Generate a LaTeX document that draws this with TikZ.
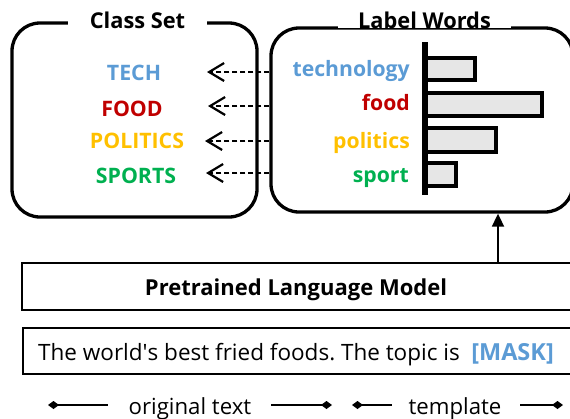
\documentclass[tikz,border=0pt]{standalone}
\usepackage{fontspec}
\setmainfont{Open Sans}
\usetikzlibrary{arrows.meta}
\definecolor{cblue}{HTML}{5B9BD5}
\definecolor{cred}{HTML}{C00000}
\definecolor{cgold}{HTML}{FFC000}
\definecolor{cgreen}{HTML}{00B050}
\definecolor{barfill}{HTML}{E6E6E6}
\frenchspacing
\begin{document}
\begin{tikzpicture}[x=1pt,y=-1pt,
  bigbox/.style={draw, line width=3.3pt, rounded corners=28pt, inner sep=0pt},
  flatbox/.style={draw, line width=1.8pt, inner sep=0pt},
  title/.style={fill=white, inner sep=0pt, font=\bfseries\fontsize{21.8}{24}\selectfont, anchor=base},
  clsword/.style={inner sep=0pt, anchor=base, font=\bfseries\fontsize{21.3}{24}\selectfont},
  lwword/.style={inner sep=0pt, anchor=base east, font=\bfseries\fontsize{21.2}{24}\selectfont},
  bar/.style={draw, line width=3.5pt, fill=barfill},
  dasharrow/.style={dash pattern=on 5pt off 3pt, line width=2.2pt, -{Straight Barb[length=15pt,width=18pt,line width=2.2pt]}},
  uparrow/.style={line width=1.8pt, -{Triangle[length=13pt,width=12pt]}},
  span/.style={line width=1.8pt},
  startdia/.style={{Diamond[length=11pt,width=8pt]}-},
  enddia/.style={-{Diamond[length=11pt,width=8pt]}}
]
\useasboundingbox (0,0) rectangle (570,418);
% boxes
\node[bigbox, minimum width=245pt, minimum height=194pt] (cls) at (134.5,120) {};
\node[bigbox, minimum width=302pt, minimum height=184pt] (lw) at (422,120) {};
\node[title, minimum width=139pt] (clst) at (137.5,28) {Class Set};
\node[title, minimum width=173pt] (lwt) at (424.5,28) {Label Words};
% class words
\node[clsword, text=cblue]  (tech) at (134,80)  {TECH};
\node[clsword, text=cred]   (food) at (132,116) {FOOD};
\node[clsword, text=cgold]  (pol)  at (137,148) {POLITICS};
\node[clsword, text=cgreen] (spo)  at (136,183) {SPORTS};
% label words
\node[lwword, text=cblue]  (wtech) at (410,76)  {technology};
\node[lwword, text=cred]   (wfood) at (410,110) {food};
\node[lwword, text=cgold]  (wpol)  at (410,148) {politics};
\node[lwword, text=cgreen] (wspo)  at (409,182) {sport};
% bars
\draw[bar] (425,58) rectangle (475,80);
\draw[bar] (425,93) rectangle (542,116);
\draw[bar] (425,128) rectangle (496,152);
\draw[bar] (425,163) rectangle (456,186);
\draw[line width=6pt] (425,42) -- (425,195);
% dashed arrows
\coordinate (e1) at (207,72);
\coordinate (e2) at (208,106);
\coordinate (e3) at (205,141);
\coordinate (e4) at (206,173);
\draw[dasharrow] (lw.west |- e1) -- (e1);
\draw[dasharrow] (lw.west |- e2) -- (e2);
\draw[dasharrow] (lw.west |- e3) -- (e3);
\draw[dasharrow] (lw.west |- e4) -- (e4);
% PLM and input
\node[flatbox, minimum width=550pt, minimum height=47pt] (plm) at (297,286.5) {};
\node[inner sep=0pt, anchor=base, font=\bfseries\fontsize{22}{24}\selectfont] (plmt) at (296,295) {Pretrained Language Model};
\node[flatbox, minimum width=549pt, minimum height=46pt] (inp) at (297.5,351) {};
\node[inner sep=0pt, anchor=base west, font=\fontsize{22.5}{24}\selectfont] (inpt) at (38,360) {The world\textquotesingle s best fried foods. The topic is};
\node[inner sep=0pt, anchor=base east, text=cblue, font=\bfseries\fontsize{23.5}{26}\selectfont] (mask) at (554,360) {[MASK]};
\coordinate (ax) at (498,0);
\draw[uparrow] (plm.north -| ax) -- (lw.south -| ax);
% spans
\node[inner sep=0pt, anchor=base, font=\fontsize{22.2}{24}\selectfont] (orig) at (190,414) {original text};
\node[inner sep=0pt, anchor=base, font=\fontsize{22.2}{24}\selectfont] (tmpl) at (455,414) {template};
\coordinate (o1) at (48,405);
\coordinate (o2) at (108,405);
\coordinate (o3) at (271,405);
\coordinate (o4) at (332,405);
\coordinate (t1) at (352,405);
\coordinate (t2) at (392,405);
\coordinate (t3) at (520,405);
\coordinate (t4) at (563,405);
\draw[span, startdia] (o1) -- (o2);
\draw[span, enddia] (o3) -- (o4);
\draw[span, startdia] (t1) -- (t2);
\draw[span, enddia] (t3) -- (t4);
\end{tikzpicture}
\end{document}
